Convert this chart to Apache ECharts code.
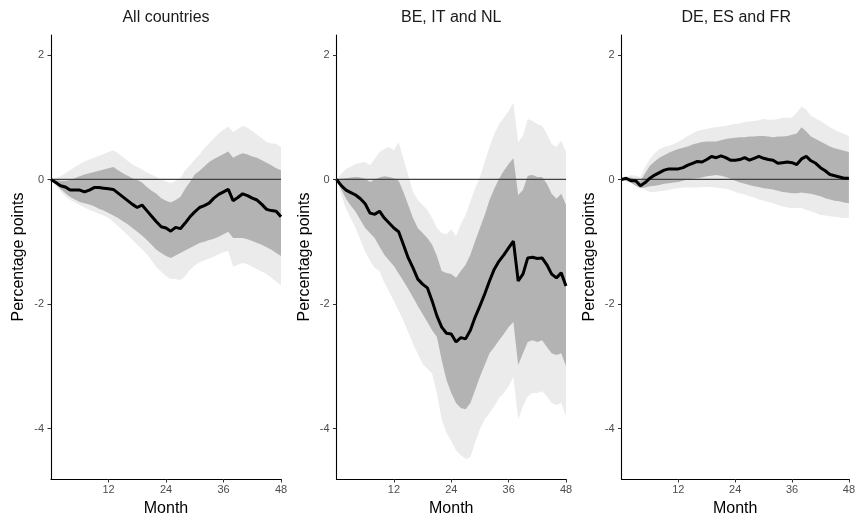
<!DOCTYPE html>
<html>
<head>
<meta charset="utf-8">
<script src="https://cdn.jsdelivr.net/npm/echarts@6/dist/echarts.min.js"></script>
<style>
  html, body { margin: 0; padding: 0; background: #fff; }
  #chart { width: 858px; height: 522px; }
</style>
</head>
<body>
<div id="chart"></div>
<script>
// Impulse responses over a 48-month horizon, three country groups.
// Each panel: point estimate plus an inner (dark) and outer (light) band.

const panelTitles = ['All countries', 'BE, IT and NL', 'DE, ES and FR'];
const monthTicks = [12, 24, 36, 48];
const valueTicks = [-4, -2, 0, 2];

// --- All countries ---
const allPoint = [0, -0.05, -0.1, -0.12, -0.17, -0.17, -0.17, -0.2, -0.17, -0.13, -0.13, -0.14, -0.15,
  -0.16, -0.22, -0.28, -0.34, -0.4, -0.45, -0.41, -0.5, -0.59, -0.68, -0.76, -0.78, -0.83, -0.77, -0.79,
  -0.7, -0.6, -0.52, -0.45, -0.42, -0.38, -0.3, -0.24, -0.2, -0.16, -0.34, -0.29, -0.23, -0.26, -0.3,
  -0.33, -0.4, -0.48, -0.5, -0.51, -0.6];
const allInnerHi = [0, -0.01, -0.02, -0.02, -0.01, 0.02, 0.05, 0.08, 0.1, 0.12, 0.14, 0.16, 0.18, 0.2,
  0.15, 0.1, 0.06, 0.02, -0.01, -0.05, -0.12, -0.18, -0.23, -0.3, -0.34, -0.37, -0.33, -0.28, -0.15,
  -0.04, 0.08, 0.14, 0.21, 0.28, 0.33, 0.37, 0.41, 0.45, 0.35, 0.39, 0.42, 0.4, 0.37, 0.35, 0.31, 0.27,
  0.23, 0.18, 0.15];
const allInnerLo = [0, -0.08, -0.15, -0.22, -0.28, -0.32, -0.36, -0.38, -0.4, -0.43, -0.47, -0.5, -0.54,
  -0.58, -0.62, -0.67, -0.72, -0.78, -0.84, -0.9, -0.97, -1.05, -1.13, -1.18, -1.23, -1.26, -1.22, -1.18,
  -1.14, -1.1, -1.06, -1.02, -1.0, -0.97, -0.95, -0.92, -0.88, -0.84, -0.94, -0.94, -0.94, -0.96, -0.99,
  -1.02, -1.05, -1.09, -1.13, -1.18, -1.23];
const allOuterHi = [0, 0.02, 0.05, 0.1, 0.15, 0.2, 0.25, 0.29, 0.32, 0.35, 0.38, 0.41, 0.44, 0.47, 0.42,
  0.36, 0.3, 0.24, 0.2, 0.16, 0.11, 0.08, 0.04, 0.0, -0.03, -0.06, -0.02, 0.02, 0.15, 0.23, 0.32, 0.4,
  0.5, 0.58, 0.66, 0.74, 0.8, 0.85, 0.76, 0.81, 0.86, 0.83, 0.78, 0.72, 0.66, 0.6, 0.58, 0.57, 0.52];
const allOuterLo = [0, -0.1, -0.19, -0.27, -0.33, -0.37, -0.41, -0.45, -0.49, -0.52, -0.55, -0.58, -0.62,
  -0.68, -0.75, -0.82, -0.89, -0.97, -1.05, -1.12, -1.2, -1.3, -1.41, -1.48, -1.55, -1.6, -1.6, -1.62,
  -1.55, -1.45, -1.38, -1.33, -1.3, -1.27, -1.24, -1.2, -1.17, -1.15, -1.4, -1.37, -1.34, -1.36, -1.4,
  -1.44, -1.48, -1.52, -1.58, -1.64, -1.7];

// --- BE, IT and NL ---
const bitPoint = [0, -0.1, -0.17, -0.21, -0.25, -0.31, -0.39, -0.54, -0.56, -0.51, -0.62, -0.7, -0.78,
  -0.84, -1.05, -1.26, -1.42, -1.6, -1.68, -1.74, -1.95, -2.19, -2.37, -2.47, -2.48, -2.61, -2.54, -2.56,
  -2.42, -2.21, -2.03, -1.84, -1.63, -1.44, -1.31, -1.21, -1.1, -0.99, -1.63, -1.52, -1.26, -1.25, -1.27,
  -1.26, -1.37, -1.52, -1.58, -1.5, -1.71];
const bitInnerHi = [0, 0.01, 0.02, 0.03, 0.04, 0.03, 0.01, -0.04, 0, 0.03, 0.05, 0.04, 0.02, -0.02, -0.2,
  -0.41, -0.62, -0.78, -0.86, -0.94, -1.05, -1.23, -1.47, -1.5, -1.52, -1.58, -1.47, -1.37, -1.21, -0.99,
  -0.78, -0.57, -0.33, -0.15, 0.01, 0.14, 0.25, 0.34, -0.25, -0.17, 0.06, 0.07, 0.04, 0.04, -0.07, -0.23,
  -0.31, -0.23, -0.41];
const bitInnerLo = [0, -0.16, -0.31, -0.42, -0.52, -0.65, -0.78, -0.86, -0.94, -1.08, -1.21, -1.3, -1.39,
  -1.51, -1.63, -1.76, -1.89, -2.03, -2.16, -2.29, -2.42, -2.53, -2.9, -3.22, -3.43, -3.59, -3.67, -3.69,
  -3.59, -3.38, -3.17, -2.98, -2.79, -2.69, -2.58, -2.48, -2.37, -2.29, -2.98, -2.79, -2.61, -2.58, -2.61,
  -2.58, -2.69, -2.79, -2.82, -2.79, -3.0];
const bitOuterHi = [0, 0.09, 0.17, 0.21, 0.25, 0.27, 0.28, 0.23, 0.33, 0.44, 0.49, 0.52, 0.47, 0.6, 0.33,
  0.07, -0.2, -0.33, -0.41, -0.49, -0.62, -0.78, -0.86, -0.88, -0.8, -0.91, -0.72, -0.57, -0.35, -0.14,
  0.04, 0.28, 0.52, 0.73, 0.89, 0.99, 1.1, 1.23, 0.6, 0.7, 0.97, 0.94, 0.89, 0.86, 0.73, 0.57, 0.52,
  0.62, 0.44];
const bitOuterLo = [0, -0.24, -0.47, -0.63, -0.78, -0.97, -1.16, -1.3, -1.42, -1.47, -1.66, -1.8, -1.95,
  -2.11, -2.27, -2.45, -2.64, -2.8, -2.96, -3.04, -3.12, -3.43, -3.85, -4.07, -4.2, -4.35, -4.43, -4.49,
  -4.46, -4.22, -4.01, -3.85, -3.75, -3.64, -3.51, -3.43, -3.32, -3.17, -3.85, -3.64, -3.48, -3.43, -3.43,
  -3.4, -3.48, -3.59, -3.62, -3.59, -3.8];

// --- DE, ES and FR ---
const defPoint = [0, 0.02, -0.02, -0.02, -0.1, -0.05, 0.02, 0.07, 0.11, 0.15, 0.17, 0.17, 0.17, 0.19, 0.23,
  0.26, 0.29, 0.28, 0.32, 0.37, 0.35, 0.38, 0.35, 0.31, 0.31, 0.32, 0.35, 0.31, 0.34, 0.37, 0.34, 0.32,
  0.31, 0.26, 0.27, 0.28, 0.27, 0.24, 0.33, 0.37, 0.3, 0.26, 0.19, 0.14, 0.08, 0.06, 0.04, 0.02, 0.02];
const defInnerHi = [0, 0.02, 0.03, 0.0, -0.02, 0.1, 0.22, 0.29, 0.35, 0.39, 0.43, 0.46, 0.49, 0.51, 0.53,
  0.56, 0.58, 0.6, 0.61, 0.61, 0.61, 0.63, 0.65, 0.66, 0.67, 0.68, 0.68, 0.69, 0.69, 0.7, 0.7, 0.69, 0.68,
  0.69, 0.69, 0.7, 0.72, 0.74, 0.84, 0.77, 0.69, 0.65, 0.61, 0.57, 0.53, 0.5, 0.48, 0.46, 0.44];
const defInnerLo = [0, -0.02, -0.05, -0.1, -0.14, -0.13, -0.11, -0.1, -0.09, -0.07, -0.06, -0.05, -0.04,
  -0.02, 0.0, 0.01, 0.02, 0.03, 0.05, 0.06, 0.07, 0.06, 0.04, 0.01, -0.02, -0.05, -0.07, -0.09, -0.11,
  -0.12, -0.14, -0.15, -0.16, -0.18, -0.2, -0.21, -0.22, -0.22, -0.21, -0.22, -0.23, -0.25, -0.27, -0.3,
  -0.32, -0.34, -0.35, -0.37, -0.38];
const defOuterHi = [0, 0.04, 0.07, 0.06, 0.04, 0.2, 0.33, 0.42, 0.49, 0.52, 0.54, 0.57, 0.6, 0.65, 0.7,
  0.74, 0.78, 0.8, 0.81, 0.83, 0.84, 0.85, 0.86, 0.88, 0.89, 0.9, 0.92, 0.93, 0.94, 0.95, 0.97, 0.96, 0.96,
  0.97, 0.99, 0.99, 0.99, 1.07, 1.17, 1.12, 1.02, 0.98, 0.94, 0.89, 0.84, 0.8, 0.76, 0.73, 0.7];
const defOuterLo = [0, -0.03, -0.06, -0.1, -0.13, -0.17, -0.2, -0.2, -0.19, -0.18, -0.17, -0.15, -0.14,
  -0.13, -0.13, -0.13, -0.13, -0.12, -0.12, -0.12, -0.13, -0.14, -0.15, -0.17, -0.2, -0.22, -0.24, -0.27,
  -0.29, -0.32, -0.34, -0.36, -0.38, -0.41, -0.43, -0.45, -0.46, -0.46, -0.46, -0.49, -0.51, -0.54, -0.57,
  -0.58, -0.59, -0.6, -0.61, -0.62, -0.62];

const panels = [
  { point: allPoint, innerHi: allInnerHi, innerLo: allInnerLo, outerHi: allOuterHi, outerLo: allOuterLo },
  { point: bitPoint, innerHi: bitInnerHi, innerLo: bitInnerLo, outerHi: bitOuterHi, outerLo: bitOuterLo },
  { point: defPoint, innerHi: defInnerHi, innerLo: defInnerLo, outerHi: defOuterHi, outerLo: defOuterLo }
];

// Layout of the three facets (pixels)
const gridLefts = [51, 336.5, 621.5];
const gridWidths = [230, 229.5, 229.5];
const gridTop = 35;
const gridHeight = 449;

const FONT = '"Liberation Sans", Arial, sans-serif';
const LIGHT = '#ebebeb';
const DARK = '#b3b3b3';

const pairs = (vals) => vals.map((v, i) => [i, v]);
const ribbon = (lo, hi) => lo.map((v, i) => [i, v, hi[i]]);

// Draws a whole ribbon (lower/upper bound per month) as one filled polygon.
function ribbonRenderer(color) {
  return function (params, api) {
    if (params.dataIndexInside !== 0) return null;
    const n = params.dataInsideLength;
    const upper = [], lower = [];
    for (let i = 0; i < n; i++) {
      const m = api.value(0, i);
      lower.push(api.coord([m, api.value(1, i)]));
      upper.push(api.coord([m, api.value(2, i)]));
    }
    return {
      type: 'polygon',
      shape: { points: upper.concat(lower.reverse()) },
      style: { fill: color, stroke: null },
      silent: true
    };
  };
}

const grids = [], xAxes = [], yAxes = [], series = [], graphics = [];

panels.forEach((p, k) => {
  grids.push({ left: gridLefts[k], top: gridTop, width: gridWidths[k], height: gridHeight, containLabel: false });

  xAxes.push({
    type: 'value', gridIndex: k, min: 0, max: 48,
    name: 'Month', nameLocation: 'middle', nameGap: 22,
    nameTextStyle: { fontFamily: FONT, fontSize: 16, color: '#000' },
    axisLine: { show: true, onZero: false, lineStyle: { color: '#000', width: 1.1 } },
    axisTick: { show: true, length: 3.5, customValues: monthTicks, lineStyle: { color: '#333', width: 1 } },
    axisLabel: { customValues: monthTicks, margin: 5, fontFamily: FONT, fontSize: 11, color: '#4d4d4d' },
    splitLine: { show: false }
  });

  yAxes.push({
    type: 'value', gridIndex: k, min: -4.81, max: 2.32,
    name: 'Percentage points', nameLocation: 'middle', nameGap: 24, nameRotate: 90,
    nameTextStyle: { fontFamily: FONT, fontSize: 16, color: '#000' },
    axisLine: { show: true, onZero: false, lineStyle: { color: '#000', width: 1.1 } },
    axisTick: { show: true, length: 3.5, customValues: valueTicks, lineStyle: { color: '#333', width: 1 } },
    axisLabel: { customValues: valueTicks, margin: 7, fontFamily: FONT, fontSize: 11, color: '#4d4d4d' },
    splitLine: { show: false }
  });

  const axes = { xAxisIndex: k, yAxisIndex: k, silent: true, animation: false };

  // outer (light) and inner (dark) bands
  series.push(Object.assign({ type: 'custom', renderItem: ribbonRenderer(LIGHT),
    encode: { x: 0, y: [1, 2] }, data: ribbon(p.outerLo, p.outerHi), z: 1 }, axes));
  series.push(Object.assign({ type: 'custom', renderItem: ribbonRenderer(DARK),
    encode: { x: 0, y: [1, 2] }, data: ribbon(p.innerLo, p.innerHi), z: 1 }, axes));
  // zero reference line
  series.push(Object.assign({ type: 'line', symbol: 'none', z: 2,
    data: [[0, 0], [48, 0]], lineStyle: { color: '#404040', width: 1.3 } }, axes));
  // point estimate
  series.push(Object.assign({ type: 'line', symbol: 'none', z: 3,
    data: pairs(p.point), lineStyle: { color: '#000', width: 3 } }, axes));

  graphics.push({
    type: 'text', x: gridLefts[k] + gridWidths[k] / 2, y: 18,
    style: { text: panelTitles[k], fontFamily: FONT, fontSize: 16, fill: '#1a1a1a',
      textAlign: 'center', textVerticalAlign: 'middle' }
  });
});

const chart = echarts.init(document.getElementById('chart'), null, { renderer: 'canvas' });
chart.setOption({
  backgroundColor: '#fff',
  animation: false,
  grid: grids,
  xAxis: xAxes,
  yAxis: yAxes,
  series: series,
  graphic: graphics
});
</script>
</body>
</html>
